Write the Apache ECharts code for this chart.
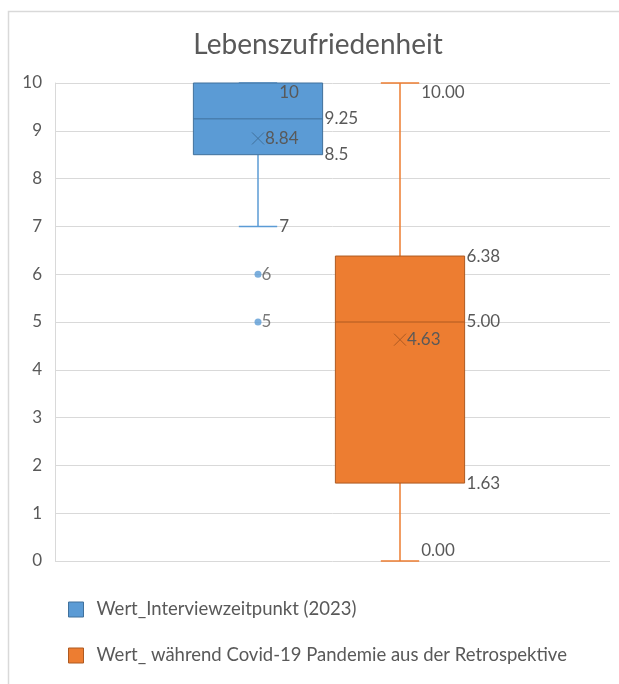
<!DOCTYPE html>
<html>
<head>
<meta charset="utf-8">
<script src="https://cdn.jsdelivr.net/npm/echarts@6/dist/echarts.min.js"></script>
<style>
html, body { margin: 0; padding: 0; background: #fff; }
#chart { width: 619px; height: 684px; }
</style>
</head>
<body>
<div id="chart"></div>
<script>
// Daten
var seriesNames = ['Wert_Interviewzeitpunkt (2023)', 'Wert_ während Covid-19 Pandemie aus der Retrospektive'];
// [min, Q1, Median, Q3, max]
var interviewBox = [7, 8.5, 9.25, 10, 10];
var covidBox = [0, 1.63, 5.00, 6.38, 10.00];
var interviewMean = 8.84;
var covidMean = 4.63;
var interviewOutliers = [6, 5];

var textColor = '#595959';
var gridColor = '#d9d9d9';
var fontFam = 'Lato';

function fmtGeneral(v) { return String(+v.toFixed(2)); }
function fmtFixed(v) { return v.toFixed(2); }

// zeichnet eine Box im Excel-Stil
function makeRender(fill, line, dark, fmt) {
    return function (params, api) {
        var cat = api.value(0);
        var mn = api.value(1), q1 = api.value(2), med = api.value(3), q3 = api.value(4), mx = api.value(5);
        var mean = api.value(6);
        var cs = params.coordSys;
        var cx = api.coord([cat, 0])[0];
        var y = function (d) { return api.coord([cat, d])[1]; };
        var band = api.size([1, 0])[0];
        var half = band * 0.455, capHalf = band * 0.135;
        var clampY = function (yy) { return Math.min(Math.max(yy, cs.y + 10), cs.y + cs.height - 10); };
        var ln = function (x1, y1, x2, y2, c, w) {
            return { type: 'line', shape: { x1: x1, y1: y1, x2: x2, y2: y2 }, style: { stroke: c, lineWidth: w } };
        };
        var txt = function (x, yy, s) {
            return { type: 'text', x: x, y: yy, style: { text: s, fill: textColor, font: '17px ' + fontFam, textAlign: 'left', textVerticalAlign: 'middle' } };
        };
        var kids = [
            ln(cx, y(mn), cx, y(q1), line, 1.5),
            ln(cx, y(q3), cx, y(mx), line, 1.5),
            ln(cx - capHalf, y(mn), cx + capHalf, y(mn), line, 1.5),
            ln(cx - capHalf, y(mx), cx + capHalf, y(mx), line, 1.5),
            { type: 'rect', shape: { x: cx - half, y: y(q3), width: half * 2, height: y(q1) - y(q3) },
              style: { fill: fill, stroke: dark, lineWidth: 1 } },
            ln(cx - half, y(med), cx + half, y(med), dark, 1),
            ln(cx - 6, y(mean) - 6, cx + 6, y(mean) + 6, dark, 1),
            ln(cx - 6, y(mean) + 6, cx + 6, y(mean) - 6, dark, 1),
            txt(cx + capHalf + 2, clampY(y(mx)), fmt(mx)),
            txt(cx + capHalf + 2, clampY(y(mn)), fmt(mn)),
            txt(cx + half + 2, y(med), fmt(med)),
            txt(cx + 7, y(mean), fmt(mean))
        ];
        if (q3 !== mx) kids.push(txt(cx + half + 2, y(q3), fmt(q3)));
        if (q1 !== mn) kids.push(txt(cx + half + 2, y(q1), fmt(q1)));
        return { type: 'group', children: kids };
    };
}

var chart = echarts.init(document.getElementById('chart'));
var option = {
    backgroundColor: '#fff',
    animation: false,
    title: {
        text: 'Lebenszufriedenheit',
        left: 313,
        textAlign: 'center',
        top: 26,
        textStyle: { color: textColor, fontSize: 28, fontWeight: 'normal', fontFamily: fontFam }
    },
    graphic: [{
        type: 'rect', z: -10,
        shape: { x: 8.5, y: 11.5, width: 800, height: 900 },
        style: { fill: 'none', stroke: gridColor, lineWidth: 1.5 }
    }],
    legend: {
        orient: 'vertical',
        left: 68,
        top: 600,
        padding: 0,
        itemWidth: 15,
        itemHeight: 15,
        itemGap: 27,
        selectedMode: false,
        textStyle: { color: textColor, fontSize: 18.5, lineHeight: 15, fontFamily: fontFam, padding: [0, 0, 0, 8] },
        data: [
            { name: seriesNames[0], icon: 'rect', itemStyle: { color: '#5B9BD5', borderColor: '#41719C', borderWidth: 1 } },
            { name: seriesNames[1], icon: 'rect', itemStyle: { color: '#ED7D31', borderColor: '#AE5A21', borderWidth: 1 } }
        ]
    },
    grid: [
        { left: 55, right: 9, top: 83, height: 478 },
        { left: 187, width: 284, top: 83, height: 478 }
    ],
    xAxis: [
        { type: 'category', data: [''], gridIndex: 0, show: false },
        { type: 'category', data: seriesNames, gridIndex: 1, show: false }
    ],
    yAxis: [
        {
            type: 'value', gridIndex: 0, min: 0, max: 10, interval: 1,
            axisLine: { show: true, lineStyle: { color: gridColor, width: 1 } },
            axisTick: { show: false },
            splitLine: { lineStyle: { color: gridColor, width: 1 } },
            axisLabel: { color: textColor, fontSize: 17, fontFamily: fontFam, margin: 13 }
        },
        { type: 'value', gridIndex: 1, min: 0, max: 10, show: false }
    ],
    series: [
        {
            name: seriesNames[0], type: 'custom', xAxisIndex: 1, yAxisIndex: 1,
            itemStyle: { color: '#5B9BD5' },
            encode: { x: 0, y: [1, 2, 3, 4, 5, 6] },
            renderItem: makeRender('#5B9BD5', '#5B9BD5', '#41719C', fmtGeneral),
            data: [[0].concat(interviewBox, [interviewMean])]
        },
        {
            name: seriesNames[1], type: 'custom', xAxisIndex: 1, yAxisIndex: 1,
            itemStyle: { color: '#ED7D31' },
            encode: { x: 0, y: [1, 2, 3, 4, 5, 6] },
            renderItem: makeRender('#ED7D31', '#ED7D31', '#AE5A21', fmtFixed),
            data: [[1].concat(covidBox, [covidMean])]
        },
        {
            name: 'Ausreißer', type: 'scatter', xAxisIndex: 1, yAxisIndex: 1,
            symbolSize: 7,
            itemStyle: { color: '#5B9BD5' },
            label: {
                show: true, position: 'right', distance: 0,
                color: textColor, fontSize: 17, fontFamily: fontFam,
                formatter: function (p) { return fmtGeneral(p.value[1]); }
            },
            data: interviewOutliers.map(function (v) { return [0, v]; })
        }
    ]
};
chart.setOption(option);
</script>
</body>
</html>
